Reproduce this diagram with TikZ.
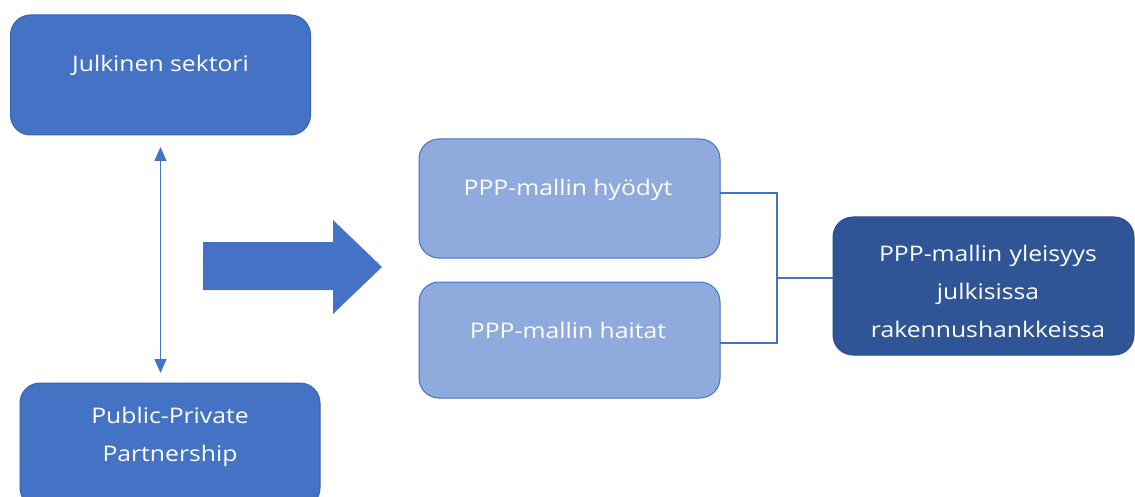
\documentclass[tikz,border=0pt]{standalone}
\usepackage{fontspec}
\setmainfont[FakeStretch=1.15]{Open Sans}
\usetikzlibrary{arrows.meta}
\definecolor{mid}{HTML}{4472C4}
\definecolor{midb}{HTML}{3A62AD}
\definecolor{lite}{HTML}{8FAADC}
\definecolor{dark}{HTML}{2F5597}
\definecolor{darkb}{HTML}{2A4D8A}
\tikzset{
  box/.style={rounded corners=20pt, line width=1pt, inner sep=0pt},
  midbox/.style={box, fill=mid, draw=midb},
  litebox/.style={box, fill=lite, draw=mid},
  darkbox/.style={box, fill=dark, draw=darkb},
  lbl/.style={text=white, font=\fontsize{21.5pt}{38pt}\selectfont, align=center, inner sep=0pt},
  conn/.style={draw=mid, line width=1.8pt},
  dbl/.style={draw=mid, line width=1.5pt, {Triangle[width=12pt,length=14pt]}-{Triangle[width=12pt,length=14pt]}},
}
\begin{document}
\begin{tikzpicture}[x=1pt,y=-1pt]
\useasboundingbox (0,0) rectangle (1135,497);
\clip (0,0) rectangle (1135,497);
% boxes
\node[midbox, minimum width=300pt, minimum height=120pt] (js) at (160.5,75) {};
\node[lbl] (jst) at (160.5,65) {Julkinen sektori};
\node[midbox, minimum width=300pt, minimum height=125pt] (ppp) at (170,445.5) {};
\node[lbl] (pppt) at (170,437) {Public-Private\\Partnership};
\node[litebox, minimum width=301pt, minimum height=119pt] (hyo) at (569.5,198.5) {};
\node[lbl] (hyot) at (568,190) {PPP-mallin hyödyt};
\node[litebox, minimum width=301pt, minimum height=116pt] (hai) at (569.5,340) {};
\node[lbl] (hait) at (568,330) {PPP-mallin haitat};
\node[darkbox, minimum width=301pt, minimum height=138pt] (yle) at (983.5,286) {};
\node[lbl, text width=300pt] (ylet) at (988,291.5) {PPP-mallin yleisyys\\julkisissa\\rakennushankkeissa};
% double arrow
\draw[dbl] (js.south |- 0,147) -- (js.south |- 0,373);
% big arrow
\fill[mid] (203,242) -- (333,242) -- (333,220) -- (382,267) -- (333,314) -- (333,290) -- (203,290) -- cycle;
% connectors
\coordinate (a1) at (720,193);
\coordinate (a2) at (720,343);
\coordinate (j) at (777,278);
\draw[conn] (a1) -- (777,193) -- (777,343) -- (a2);
\draw[conn] (j) -- (yle.west |- j);
\end{tikzpicture}
\end{document}
